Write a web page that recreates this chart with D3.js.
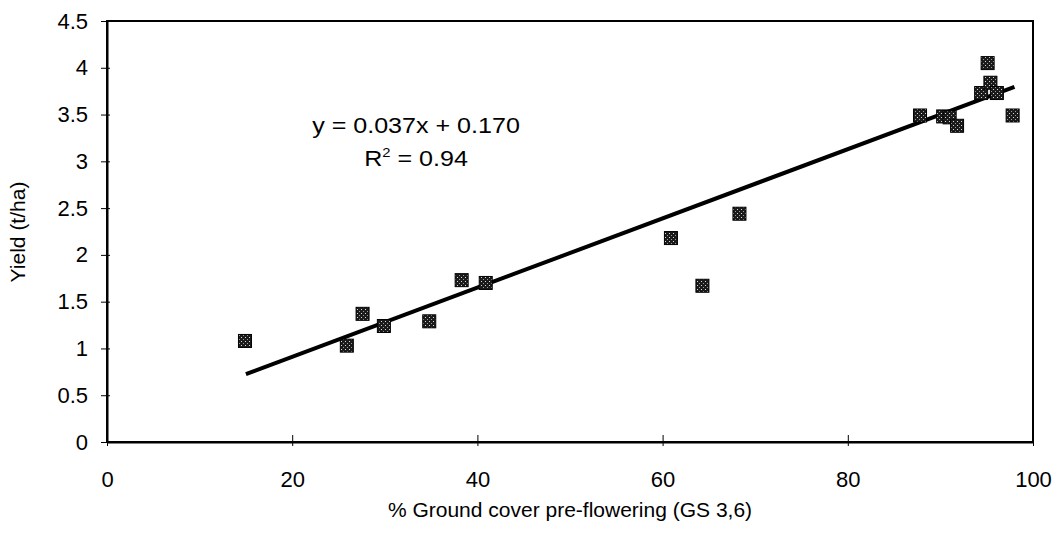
<!DOCTYPE html>
<html><head><meta charset="utf-8">
<script src="https://cdn.jsdelivr.net/npm/d3@7"></script>
<style>body{margin:0;background:#fff}svg{display:block}text{font-family:Arial,"Liberation Sans",sans-serif}</style>
</head><body>
<svg id="c" width="1056" height="537"></svg>
<script>
const coverX = [14.9, 25.9, 27.6, 29.9, 34.8, 38.3, 40.9, 60.9, 64.3, 68.3, 87.8, 90.3, 91.0, 91.8, 94.4, 95.1, 95.4, 96.1, 97.8];
const yieldY = [1.08, 1.03, 1.37, 1.24, 1.29, 1.73, 1.70, 2.18, 1.67, 2.44, 3.49, 3.48, 3.47, 3.38, 3.73, 4.05, 3.84, 3.73, 3.49];
const xTicks = [0, 20, 40, 60, 80, 100];
const yTicks = [0, 0.5, 1, 1.5, 2, 2.5, 3, 3.5, 4, 4.5];
const slope = 0.037, intercept = 0.170;
const fitRange = [15, 98];
const eqText = "y = 0.037x + 0.170";
const r2Text = "0.94";

const svg = d3.select("#c");
const L = 107, R = 1033, T = 21, B = 442;
const x = d3.scaleLinear().domain([0, 100]).range([L, R]);
const y = d3.scaleLinear().domain([0, 4.5]).range([B, T]);

const defs = svg.append("defs");
const pat = defs.append("pattern").attr("id", "dots").attr("patternUnits", "userSpaceOnUse")
  .attr("width", 4).attr("height", 4);
pat.append("rect").attr("width", 4).attr("height", 4).attr("fill", "#1b1b1b");
pat.append("rect").attr("x", 1).attr("y", 1).attr("width", 1).attr("height", 1).attr("fill", "#d8d8d8");
pat.append("rect").attr("x", 3).attr("y", 3).attr("width", 1).attr("height", 1).attr("fill", "#9a9a9a");

svg.append("rect").attr("x", L).attr("y", T).attr("width", R - L).attr("height", B - T)
  .attr("fill", "none").attr("stroke", "#000").attr("stroke-width", 2);

const fmt = d => String(d);
const xa = svg.append("g").attr("transform", `translate(0,${B})`)
  .call(d3.axisBottom(x).tickValues(xTicks).tickFormat(fmt).tickSize(4).tickSizeOuter(0).tickPadding(25));
xa.selectAll(".tick line").attr("y1", -7).attr("stroke-width", 1);
const ya = svg.append("g").attr("transform", `translate(${L},0)`)
  .call(d3.axisLeft(y).tickValues(yTicks).tickFormat(fmt).tickSize(6).tickSizeOuter(0).tickPadding(13));
ya.selectAll(".tick line").attr("x1", 3).attr("stroke-width", 1);
[xa, ya].forEach(g => {
  g.select(".domain").attr("stroke-width", 2);
  g.selectAll("text").style("font-size", "22px").attr("fill", "#000");
});

svg.append("line")
  .attr("x1", x(fitRange[0])).attr("y1", y(slope * fitRange[0] + intercept))
  .attr("x2", x(fitRange[1])).attr("y2", y(slope * fitRange[1] + intercept))
  .attr("stroke", "#000").attr("stroke-width", 4);

const s = 13;
svg.append("g").selectAll("rect").data(coverX.map((d, i) => [d, yieldY[i]])).join("rect")
  .attr("x", d => x(d[0]) - s / 2).attr("y", d => y(d[1]) - s / 2)
  .attr("width", s).attr("height", s).attr("fill", "url(#dots)")
  .attr("stroke", "#000").attr("stroke-width", 1);

const eq = svg.append("g").attr("transform", "translate(416,0) scale(1.14,1)");
eq.append("text").attr("x", 0).attr("y", 133).attr("text-anchor", "middle")
  .attr("font-size", 22).text(eqText);
const r2 = eq.append("text").attr("x", 0).attr("y", 166).attr("text-anchor", "middle").attr("font-size", 22);
r2.append("tspan").text("R");
r2.append("tspan").attr("dy", -9).attr("font-size", 13).text("2");
r2.append("tspan").attr("dy", 9).text(" = " + r2Text);

svg.append("text").attr("x", 570).attr("y", 517).attr("text-anchor", "middle")
  .attr("font-size", 21).text("% Ground cover pre-flowering (GS 3,6)");
svg.append("text").attr("transform", "translate(25,232) rotate(-90)").attr("text-anchor", "middle")
  .attr("font-size", 21).text("Yield (t/ha)");
</script>
</body></html>
